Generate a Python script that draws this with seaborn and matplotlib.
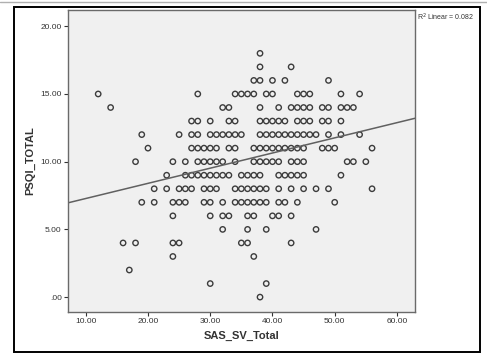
import numpy as np
import pandas as pd
import matplotlib
matplotlib.use("Agg")
import matplotlib.pyplot as plt
import seaborn as sns

# PSQI_TOTAL degeri -> o satirdaki SAS_SV_Total degerleri
psqi_18 = [38]
psqi_17 = [38, 43]
psqi_16 = [37, 38, 40, 42, 49]
psqi_15 = [12, 28, 34, 35, 36, 37, 39, 40, 44, 45, 46, 51, 54]
psqi_14 = [14, 32, 33, 38, 41, 43, 44, 45, 46, 48, 49, 51, 52, 53]
psqi_13 = [27, 28, 30, 33, 34, 38, 39, 40, 41, 42, 44, 45, 46, 48, 49, 51]
psqi_12 = [19, 25, 27, 28, 30, 31, 32, 33, 34, 35, 38, 39, 40, 41, 42, 43, 44,
           45, 46, 47, 49, 51, 54]
psqi_11 = [20, 27, 28, 29, 30, 31, 33, 34, 37, 38, 39, 40, 41, 42, 43, 44, 45,
           48, 49, 50, 56]
psqi_10 = [18, 24, 26, 28, 29, 30, 31, 32, 34, 37, 38, 39, 40, 41, 43, 44, 45,
           52, 53, 55]
psqi_9 = [23, 26, 27, 28, 29, 30, 31, 32, 33, 35, 36, 37, 38, 41, 42, 43, 44,
          45, 51]
psqi_8 = [21, 23, 25, 26, 27, 29, 30, 31, 34, 35, 36, 37, 38, 39, 41, 43, 45,
          47, 49, 56]
psqi_7 = [19, 21, 24, 25, 26, 29, 30, 32, 34, 35, 36, 37, 38, 39, 41, 42, 44, 50]
psqi_6 = [24, 30, 32, 33, 36, 37, 40, 41, 43]
psqi_5 = [32, 36, 39, 47]
psqi_4 = [16, 18, 24, 25, 35, 36, 43]
psqi_3 = [24, 37]
psqi_2 = [17]
psqi_1 = [30, 39]
psqi_0 = [38]

# resimden okunan dogru (fit) katsayilari
fit_intercept = 6.16
fit_slope = 0.112
r2_text = "R$^2$ Linear = 0.082"

rows = {18: psqi_18, 17: psqi_17, 16: psqi_16, 15: psqi_15, 14: psqi_14,
        13: psqi_13, 12: psqi_12, 11: psqi_11, 10: psqi_10, 9: psqi_9,
        8: psqi_8, 7: psqi_7, 6: psqi_6, 5: psqi_5, 4: psqi_4, 3: psqi_3,
        2: psqi_2, 1: psqi_1, 0: psqi_0}
df = pd.DataFrame([(x, y) for y, xs in rows.items() for x in xs],
                  columns=["SAS_SV_Total", "PSQI_TOTAL"])

sns.set_theme(style="white")
plt.rcParams["font.family"] = ["Liberation Sans", "DejaVu Sans"]

fig = plt.figure(figsize=(4.87, 3.55), dpi=100)
ax = fig.add_axes([68 / 487, 1 - 312 / 355, (415 - 68) / 487, (312 - 10) / 355])
ax.set_facecolor("#f0f0f0")

# dis cerceve ve ustteki gri cizgi
fig.add_artist(plt.Rectangle((14 / 487, 3 / 355), 466 / 487, 345 / 355,
                             transform=fig.transFigure, fill=False,
                             edgecolor="black", linewidth=1.4))
fig.add_artist(plt.Line2D([0, 1], [1 - 2 / 355, 1 - 2 / 355],
                          transform=fig.transFigure, color="#b0b0b0", linewidth=1))

sns.scatterplot(data=df, x="SAS_SV_Total", y="PSQI_TOTAL", ax=ax,
                marker="o", s=15, facecolor="none", edgecolor="#3c3c3c",
                linewidth=1.0)
ax.axline((0, fit_intercept), slope=fit_slope, color="#606060", linewidth=1.1)

ax.set_xlim(7.15, 62.9)
ax.set_ylim(-1.1, 21.2)
ax.set_xticks([10, 20, 30, 40, 50, 60])
ax.set_xticklabels(["10.00", "20.00", "30.00", "40.00", "50.00", "60.00"])
ax.set_yticks([0, 5, 10, 15, 20])
ax.set_yticklabels([".00", "5.00", "10.00", "15.00", "20.00"])
ax.tick_params(axis="both", direction="out", length=3, width=0.8,
               labelsize=6, colors="#333333", pad=1.5,
               bottom=True, left=True)
for s in ax.spines.values():
    s.set_color("#6a6a6a")
    s.set_linewidth(1.0)

ax.set_xlabel("SAS_SV_Total", fontsize=8, fontweight="bold", color="#333333",
              labelpad=4)
ax.set_ylabel("PSQI_TOTAL", fontsize=8, fontweight="bold", color="#333333",
              labelpad=4)

fig.text(417 / 487, 1 - 17 / 355, r2_text, fontsize=5, color="#333333",
         ha="left", va="center")

fig.savefig("out.png", dpi=100)
